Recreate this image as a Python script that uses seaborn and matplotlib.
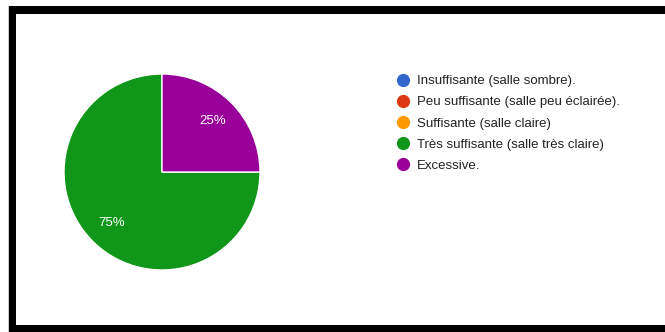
import matplotlib
matplotlib.use("Agg")
import matplotlib.pyplot as plt
import seaborn as sns
from matplotlib.lines import Line2D
from matplotlib.patches import Rectangle

# data
categories = [
    "Insuffisante (salle sombre).",
    "Peu suffisante (salle peu éclairée).",
    "Suffisante (salle claire)",
    "Très suffisante (salle très claire)",
    "Excessive.",
]
values = [0, 0, 0, 75, 25]
colors = ["#3366cc", "#dc3912", "#ff9900", "#109618", "#990099"]

sns.set_theme(style="white")
plt.rcParams["font.family"] = ["Liberation Sans", "DejaVu Sans"]

W, H = 665, 332
fig = plt.figure(figsize=(W / 100, H / 100), dpi=100)
fig.patch.set_facecolor("white")

# pie axes: centre (162,172) px, radius ~98 px
cx, cy, r = 162, 172, 98
ax = fig.add_axes([(cx - r) / W, (H - cy - r) / H, 2 * r / W, 2 * r / H])


def pct(p):
    return f"{p:.0f}%" if p > 0.5 else ""


wedges, texts, autotexts = ax.pie(
    values, colors=colors, startangle=90, counterclock=True,
    autopct=pct, pctdistance=0.73,
    wedgeprops=dict(edgecolor="white", linewidth=1),
    textprops=dict(color="white", fontsize=9.5),
)
ax.set_xlim(-1, 1)
ax.set_ylim(-1, 1)
ax.set_aspect("equal")
ax.axis("off")

handles = [Line2D([], [], marker="o", linestyle="", markersize=8.5,
                  markerfacecolor=c, markeredgecolor=c) for c in colors]
fig.legend(handles, categories, loc="upper left",
           bbox_to_anchor=(395 / W, 1 - 75 / H), frameon=False,
           fontsize=9.5, handletextpad=0.45, labelspacing=0.68,
           handlelength=1.2, borderaxespad=0, borderpad=0,
           labelcolor="#222222")

# black frame on left, top and bottom
black = "#000000"
fig.patches.append(Rectangle((8 / W, 0), 1 / W, 1 - 6 / H, transform=fig.transFigure,
                             facecolor="#cccccc", edgecolor="none"))
fig.patches.append(Rectangle((9 / W, 0), 7 / W, 1 - 6 / H, transform=fig.transFigure,
                             facecolor=black, edgecolor="none"))
fig.patches.append(Rectangle((9 / W, 1 - 14 / H), 1 - 9 / W, 8 / H, transform=fig.transFigure,
                             facecolor=black, edgecolor="none"))
fig.patches.append(Rectangle((9 / W, 0), 1 - 9 / W, 7 / H, transform=fig.transFigure,
                             facecolor=black, edgecolor="none"))

fig.savefig("out.png", dpi=100, facecolor="white")
